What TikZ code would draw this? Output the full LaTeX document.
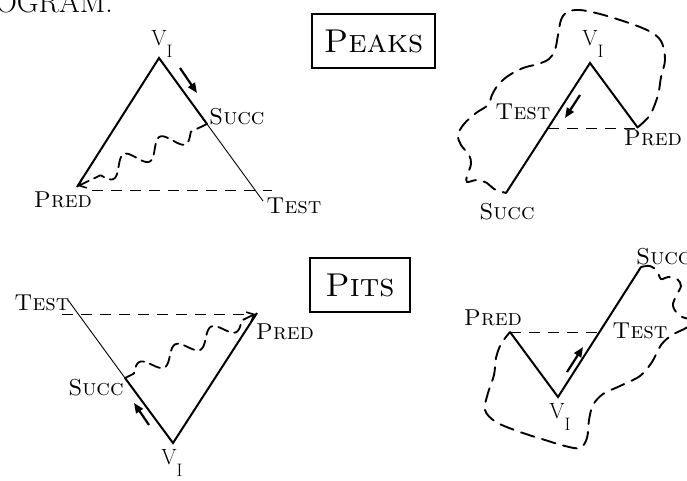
\documentclass[tikz,border=0pt]{standalone}
\usetikzlibrary{arrows.meta}
\tikzset{
  edge/.style={line width=2pt, line join=miter},
  thinedge/.style={line width=0.9pt},
  level/.style={line width=0.9pt, dash pattern=on 11pt off 8pt},
  wavy/.style={line width=1.8pt, dash pattern=on 11pt off 6pt, line cap=round,
               -{Straight Barb[length=6pt,width=11pt,line width=1.6pt]}},
  region/.style={line width=1.9pt, dash pattern=on 14pt off 8pt, line cap=round},
  dirarrow/.style={line width=2.2pt, -{Triangle[length=10pt,width=8pt]}},
  lbl/.style={font=\fontsize{23}{25}\selectfont\scshape, inner sep=0pt},
  vlbl/.style={font=\fontsize{22}{24}\selectfont, inner sep=0pt},
  casebox/.style={draw, line width=1.3pt, font=\fontsize{33}{35}\selectfont\scshape,
                  inner sep=0pt},
}
\newcommand{\vone}{V\raisebox{-12pt}{\fontsize{18}{18}\selectfont I}}
\begin{document}
\begin{tikzpicture}[x=1pt,y=-1pt]
\useasboundingbox (0,0) rectangle (687,481);
\clip (0,0) rectangle (687,481);

% running heading, cut by the page edge
\node[anchor=base east, inner sep=0pt, font=\fontsize{30}{32}\selectfont] (head) at (113,13) {PROGRAM.};

% ---------- case boxes ----------
\node[casebox, minimum width=123pt, minimum height=54pt] (peaks) at (373.5,41) {Peaks};
\node[casebox, minimum width=100pt, minimum height=54pt] (pits) at (360,285) {Pits};

% ---------- top left: peak, succ on the way down ----------
\coordinate (tlV) at (159,58);
\coordinate (tlP) at (77,187);
\coordinate (tlS) at (207,124);
\coordinate (tlT) at (263,201);
\coordinate (tlD1) at (92,190);
\coordinate (tlD2) at (272,190);
\coordinate (tlA1) at (180,68);
\coordinate (tlA2) at (197,93);
\draw[edge] (tlP) -- (tlV) -- (tlS);
\draw[thinedge] (tlS) -- (tlT);
\draw[level] (tlD1) -- (tlD2);
\draw[dirarrow] (tlA1) -- (tlA2);
% wavy path from succ back to pred
\draw[wavy] plot[domain=0:143, samples=130, smooth]
  ({207-0.902*\x+0.434*9*sin(9*(\x-18))*(\x>18)*(\x<118)},
   {124+0.434*\x+0.902*9*sin(9*(\x-18))*(\x>18)*(\x<118)});
\node[vlbl] (tlVl) at (162,44) {\vone};
\node[lbl, anchor=west] (tlSl) at (209,117) {Succ};
\node[lbl] (tlPl) at (63,200) {Pred};
\node[lbl] (tlTl) at (294,206) {Test};

% ---------- top right: peak, test on the way down ----------
\coordinate (trV) at (590,63);
\coordinate (trP) at (638,128);
\coordinate (trS) at (506,193);
\coordinate (trT) at (548,128);
\coordinate (trD) at (636,128);
\coordinate (trA1) at (580,95);
\coordinate (trA2) at (565,118);
\draw[edge] (trS) -- (trV) -- (trP);
\draw[level] (trT) -- (trD);
\draw[dirarrow] (trA1) -- (trA2);
\draw[region] plot[smooth, tension=0.55] coordinates {
  (638,127) (650,115) (658,95) (661,77) (665,60) (662,43) (654,34) (640,27) (620,20)
  (600,14) (580,10) (567,12) (561,20) (558,35) (555,50) (549,59) (538,64) (523,68)
  (508,76) (498,85) (492,95) (488,105) (476,113) (464,124) (458,135) (461,145)
  (469,155) (471,164) (467,176) (467,182) (477,180) (487,183) (494,189) (506,193)};
\node[vlbl] (trVl) at (593,44) {\vone};
\node[lbl] (trPl) at (653,138) {Pred};
\node[lbl] (trSl) at (507,212) {Succ};
\node[lbl] (trTl) at (523,112) {Test};

% ---------- bottom left: pit, succ on the way up ----------
\coordinate (blV) at (173,443);
\coordinate (blP) at (257,313);
\coordinate (blS) at (125,378);
\coordinate (blT) at (68,300);
\coordinate (blD1) at (62,314);
\coordinate (blD2) at (253,314);
\coordinate (blA1) at (149,425);
\coordinate (blA2) at (134,403);
\draw[edge] (blS) -- (blV) -- (blP);
\draw[thinedge] (blS) -- (blT);
\draw[level] (blD1) -- (blD2);
\draw[dirarrow] (blA1) -- (blA2);
% wavy path from succ over to pred
\draw[wavy] plot[domain=0:145, samples=130, smooth]
  ({125+0.897*\x-0.442*8*sin(9*(\x-10))*(\x>10)*(\x<130)},
   {378-0.442*\x-0.897*8*sin(9*(\x-10))*(\x>10)*(\x<130)});
\node[vlbl] (blVl) at (172,463) {\vone};
\node[lbl] (blPl) at (285,332) {Pred};
\node[lbl] (blSl) at (96,388) {Succ};
\node[lbl] (blTl) at (42,303) {Test};

% ---------- bottom right: pit, test on the way up ----------
\coordinate (brV) at (558,397);
\coordinate (brP) at (510,332);
\coordinate (brS) at (641,267);
\coordinate (brT) at (600,332);
\coordinate (brA1) at (567,372);
\coordinate (brA2) at (583,347);
\draw[edge] (brP) -- (brV) -- (brS);
\draw[level] (brP) -- (brT);
\draw[dirarrow] (brA1) -- (brA2);
\draw[region] plot[smooth, tension=0.55] coordinates {
  (641,267) (650,266) (657,271) (661,279) (668,277) (677,279) (681,286) (676,296)
  (673,306) (680,316) (694,321) (686,328) (672,335) (661,345) (652,362) (640,376)
  (620,386) (603,394) (593,405) (589,420) (587,438) (580,448) (565,446) (545,440)
  (520,432) (496,422) (485,410) (488,393) (494,375) (496,358) (501,344) (510,332)};
\node[vlbl] (brVl) at (560,417) {\vone};
\node[lbl] (brPl) at (493,318) {Pred};
\node[lbl] (brTl) at (640,331) {Test};
\node[lbl, anchor=west] (brSl) at (636,257) {Succ};
\end{tikzpicture}
\end{document}
